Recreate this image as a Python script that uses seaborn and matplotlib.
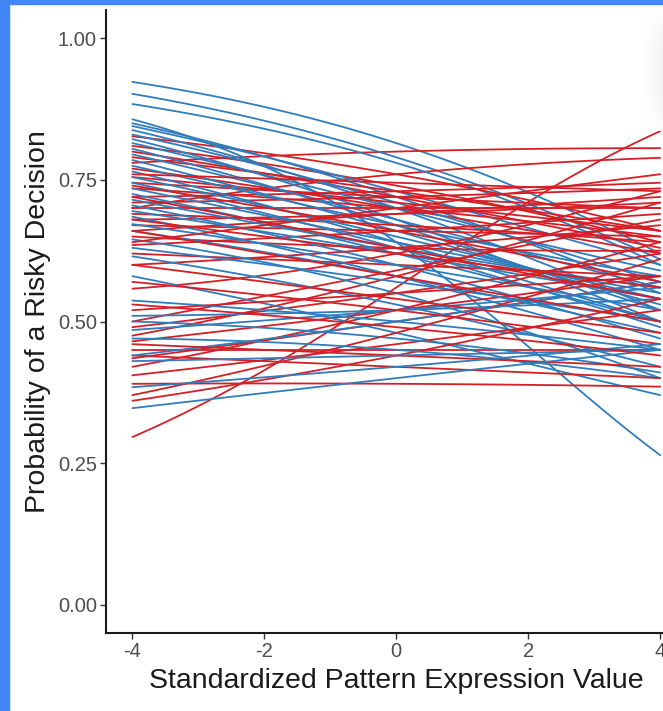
import matplotlib
matplotlib.use("Agg")
import matplotlib.pyplot as plt
from matplotlib.patches import Rectangle
import numpy as np
import pandas as pd
import seaborn as sns

# predicted probability for each participant at x = -4, 0 and 4
blue_start = [0.923, 0.902, 0.884, 0.857, 0.850, 0.845, 0.838, 0.830, 0.822, 0.815,
              0.805, 0.795, 0.785, 0.775, 0.765, 0.755, 0.745, 0.735, 0.725, 0.715,
              0.705, 0.695, 0.685, 0.672, 0.660, 0.645, 0.630, 0.615, 0.580, 0.537,
              0.510, 0.500, 0.485, 0.470, 0.440, 0.430, 0.384, 0.347]
blue_mid = [0.815, 0.790, 0.780, 0.640, 0.720, 0.730, 0.700, 0.710, 0.680, 0.700,
            0.670, 0.680, 0.660, 0.670, 0.640, 0.650, 0.630, 0.640, 0.620, 0.630,
            0.600, 0.620, 0.580, 0.600, 0.580, 0.550, 0.570, 0.530, 0.480, 0.500,
            0.520, 0.470, 0.520, 0.450, 0.500, 0.440, 0.420, 0.400]
blue_end = [0.620, 0.610, 0.600, 0.264, 0.550, 0.600, 0.520, 0.570, 0.500, 0.590,
            0.520, 0.560, 0.530, 0.580, 0.500, 0.540, 0.490, 0.550, 0.500, 0.560,
            0.470, 0.540, 0.450, 0.520, 0.480, 0.400, 0.500, 0.420, 0.370, 0.450,
            0.540, 0.410, 0.560, 0.400, 0.570, 0.450, 0.460, 0.450]

red_start = [0.296, 0.780, 0.700, 0.827, 0.810, 0.800, 0.790, 0.770, 0.755, 0.745,
             0.735, 0.720, 0.710, 0.700, 0.690, 0.680, 0.670, 0.660, 0.650, 0.635,
             0.620, 0.600, 0.558, 0.500, 0.490, 0.475, 0.465, 0.450, 0.435, 0.420,
             0.405, 0.390, 0.370, 0.360, 0.440, 0.460, 0.570, 0.600, 0.660, 0.720,
             0.740, 0.680, 0.530, 0.760, 0.640, 0.520]
red_mid = [0.560, 0.800, 0.760, 0.760, 0.740, 0.720, 0.730, 0.700, 0.710, 0.720,
           0.700, 0.730, 0.720, 0.700, 0.670, 0.690, 0.660, 0.690, 0.630, 0.660,
           0.600, 0.630, 0.620, 0.590, 0.550, 0.580, 0.520, 0.450, 0.500, 0.520,
           0.460, 0.390, 0.480, 0.440, 0.420, 0.440, 0.520, 0.540, 0.580, 0.630,
           0.660, 0.620, 0.490, 0.745, 0.700, 0.550]
red_end = [0.836, 0.806, 0.789, 0.660, 0.640, 0.630, 0.660, 0.620, 0.660, 0.700,
           0.650, 0.745, 0.735, 0.700, 0.640, 0.710, 0.650, 0.720, 0.625, 0.690,
           0.580, 0.670, 0.730, 0.680, 0.620, 0.710, 0.580, 0.450, 0.570, 0.640,
           0.520, 0.385, 0.610, 0.540, 0.400, 0.420, 0.460, 0.480, 0.500, 0.540,
           0.570, 0.560, 0.440, 0.730, 0.760, 0.580]

BLUE = "#2F7DBC"
RED = "#D41F26"

sns.set_theme(style="white")
plt.rcParams["font.family"] = ["Liberation Sans", "DejaVu Sans"]


def logit(p):
    p = np.asarray(p, dtype=float)
    return np.log(p / (1 - p))


# each curve is a (quadratic) logistic through its three read-off points
xs = np.linspace(-4, 4, 81)
rows = []
for grp, s, m, e in (("blue", blue_start, blue_mid, blue_end),
                     ("red", red_start, red_mid, red_end)):
    l0, l1, l2 = logit(s), logit(m), logit(e)
    b = (l2 - l0) / 8
    c = (l0 + l2 - 2 * l1) / 32
    for i in range(len(s)):
        p = 1 / (1 + np.exp(-(l1[i] + b[i] * xs + c[i] * xs ** 2)))
        rows.append(pd.DataFrame({"x": xs, "p": p, "line": f"{grp}{i}", "group": grp}))
df = pd.concat(rows, ignore_index=True)

fig = plt.figure(figsize=(6.63, 7.11), dpi=100)
ax = fig.add_axes([106 / 663, 78 / 711, 580.5 / 663, 623 / 711])

# interleave the two groups so neither colour sits entirely on top
ids_b = [f"blue{i}" for i in range(len(blue_start))]
ids_r = [f"red{i}" for i in range(len(red_start))]
order = []
for i in range(max(len(ids_b), len(ids_r))):
    if i < len(ids_r):
        order.append(ids_r[i])
    if i < len(ids_b):
        order.append(ids_b[i])
for lid in order:
    d = df[df.line == lid]
    sns.lineplot(data=d, x="x", y="p", color=BLUE if lid.startswith("blue") else RED,
                 lw=1.3, estimator=None, ax=ax, legend=False)

ax.set_xlim(-4.4, 4.4)
ax.set_ylim(-0.05, 1.05)
ax.set_xticks([-4, -2, 0, 2, 4])
ax.set_xticklabels(["-4", "-2", "0", "2", "4"])
ax.set_yticks([0, 0.25, 0.5, 0.75, 1.0])
ax.set_yticklabels(["0.00", "0.25", "0.50", "0.75", "1.00"])
ax.tick_params(axis="both", which="major", length=4, width=1.0, color="#333333",
               labelsize=14.5, labelcolor="#4D4D4D", pad=2.5, bottom=True, left=True)
for side in ("top", "right"):
    ax.spines[side].set_visible(False)
for side in ("left", "bottom"):
    ax.spines[side].set_linewidth(1.5)
    ax.spines[side].set_color("#1a1a1a")
ax.set_xlabel("Standardized Pattern Expression Value", fontsize=20.5, color="#1a1a1a", labelpad=5)
ax.set_ylabel("Probability of a Risky Decision", fontsize=20.5, color="#1a1a1a", labelpad=5)
ax.grid(False)

# frame of the screenshot: blue edge on the left and top
fig.patches.append(Rectangle((0, 0), 9 / 663, 1, transform=fig.transFigure,
                             color="#4285F4", zorder=10))
fig.patches.append(Rectangle((0, 1 - 4 / 711), 1, 4 / 711, transform=fig.transFigure,
                             color="#4285F4", zorder=10))

# faint grey shadow in the top right corner
sh = fig.add_axes([640 / 663, 580 / 711, 23 / 663, 120 / 711])
grad = np.outer(np.sin(np.linspace(0, np.pi, 50)) ** 0.7, np.linspace(0, 1, 20) ** 1.5)
sh.imshow(grad, cmap="Greys", vmin=0, vmax=9, aspect="auto")
sh.axis("off")

fig.savefig("out.png", dpi=100)
